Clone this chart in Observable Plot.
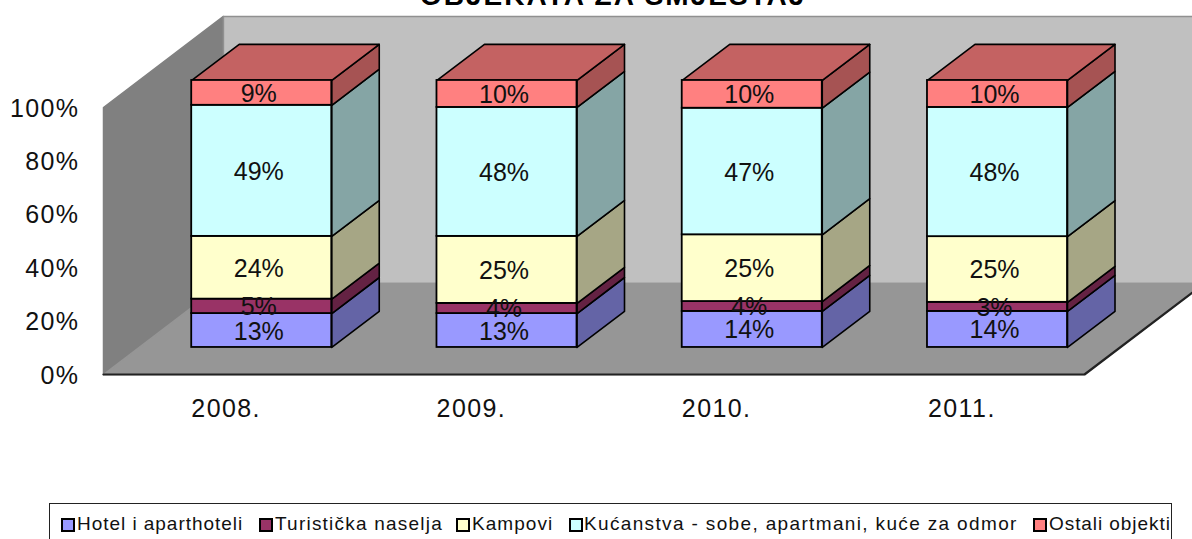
<!DOCTYPE html>
<html>
<head>
<meta charset="utf-8">
<script src="https://cdn.jsdelivr.net/npm/d3@7"></script>
<script src="https://cdn.jsdelivr.net/npm/@observablehq/plot@0.6"></script>
<style>
html,body{margin:0;padding:0;background:#fff;width:1192px;height:539px;overflow:hidden;font-family:"Liberation Sans",Arial,sans-serif}
#wrap{position:relative;width:1192px;height:539px;overflow:hidden}
#title{position:absolute;top:-19px;left:420px;font-weight:bold;font-size:28px;line-height:30px;white-space:nowrap;letter-spacing:2px}
#chart{position:absolute;left:0;top:0}
#chart svg{display:block;overflow:hidden}
#chart g[aria-label="y-axis tick label"] text{letter-spacing:1.4px}
#chart g[aria-label="x-axis tick label"] text{letter-spacing:1.4px}
#legend{position:absolute;left:49px;top:503px;width:1123px;height:40px;border:1px solid #222;box-sizing:border-box}
.item{position:absolute;top:10px;font-size:19px;line-height:20px;white-space:nowrap;color:#111}
.sw{position:absolute;top:14px;width:10px;height:10px;border:2px solid #000;box-sizing:content-box}
</style>
</head>
<body>
<div id="wrap">
<div id="title"></div>
<div id="chart"></div>
<div id="legend"></div>
</div>
<script>
const titleText = "OBJEKATA ZA SMJEŠTAJ";
const years = ["2008.", "2009.", "2010.", "2011."];
const seriesNames = ["Hotel i aparthoteli", "Turistička naselja", "Kampovi", "Kućanstva - sobe, apartmani, kuće za odmor", "Ostali objekti"];
const hotels = [12.7, 12.7, 13.5, 13.5];
const resorts = [5.4, 3.8, 3.7, 3.4];
const camps = [23.5, 25.1, 25.0, 24.6];
const households = [49.1, 48.3, 47.4, 48.4];
const others = [9.3, 10.1, 10.4, 10.1];
const seriesValues = [hotels, resorts, camps, households, others];
const frontColors = ["#9999FF", "#993366", "#FFFFCC", "#CCFFFF", "#FF8080"];
const sideColors = ["#6464A6", "#642243", "#A6A685", "#85A5A5", "#A65353"];
const topColor = "#C46262";
const yTicks = [0, 20, 40, 60, 80, 100];

// oblique projection of the chart's box, in scale units
const depthX = 0.489, depthY = 34.1;
const barNear = 0.297, barFar = 0.693, barHalf = 0.2855;
const at = (cat, pct, depth) => ({x: cat + depth * depthX, y: pct + depth * depthY});
const poly = (id, fill, stroke, pts) => [...pts, pts[0]].map(p => ({id, fill, stroke, ...p}));

const walls = [
  poly("left", "#808080", "#808080", [at(-0.5,0,0), at(-0.5,100,0), at(-0.5,100,1), at(-0.5,0,1)]),
  poly("back", "#C0C0C0", "#909090", [at(-0.5,0,1), at(-0.5,100,1), at(3.5,100,1), at(3.5,0,1)]),
  poly("floor", "#969696", "#969696", [at(-0.5,0,0), at(3.5,0,0), at(3.5,0,1), at(-0.5,0,1)])
].flat();
const floorEdge = [at(-0.5,0,0), at(3.5,0,0), at(3.5,0,1)];

const fronts = [], faces = [];
years.forEach((year, i) => {
  let base = 0;
  seriesNames.forEach((name, s) => {
    const v = seriesValues[s][i], top = base + v;
    const l = i - barHalf, r = i + barHalf;
    fronts.push({
      year, name, v, label: Math.round(v) + "%",
      x1: at(l, 0, barNear).x, x2: at(r, 0, barNear).x,
      xm: at(i, 0, barNear).x,
      y1: at(0, base, barNear).y, y2: at(0, top, barNear).y,
      ym: at(0, (base + top) / 2, barNear).y,
      fill: frontColors[s]
    });
    faces.push(...poly(`s${i}-${s}`, sideColors[s], "#000", [at(r, base, barNear), at(r, top, barNear), at(r, top, barFar), at(r, base, barFar)]));
    base = top;
  });
  const l = i - barHalf, r = i + barHalf;
  faces.push(...poly(`t${i}`, topColor, "#000", [at(l, base, barNear), at(r, base, barNear), at(r, base, barFar), at(l, base, barFar)]));
});

const font = {fontFamily: "Liberation Sans, Arial, sans-serif"};
const plot = Plot.plot({
  width: 1192,
  height: 503,
  marginLeft: 103,
  marginRight: 108,
  marginTop: 107,
  marginBottom: 129,
  style: {background: "transparent", ...font},
  x: {domain: [-0.5, 3.5]},
  y: {domain: [0, 100]},
  marks: [
    Plot.line(walls, {x: "x", y: "y", z: "id", fill: {value: "fill", scale: null}, stroke: {value: "stroke", scale: null}, strokeWidth: 1.5}),
    Plot.line(floorEdge, {x: "x", y: "y", stroke: "#222", strokeWidth: 2.2}),
    Plot.axisY({ticks: yTicks, tickSize: 0, tickPadding: 24, dy: 1, tickFormat: d => d + "%", label: null, fontSize: 25, fill: "#111"}),
    Plot.axisX({ticks: [0, 1, 2, 3], tickSize: 0, tickPadding: 25, tickFormat: i => years[i], label: null, fontSize: 25, fill: "#111"}),
    Plot.line(faces, {x: "x", y: "y", z: "id", fill: {value: "fill", scale: null}, stroke: "#000", strokeWidth: 1.6, strokeLinejoin: "round"}),
    Plot.rect(fronts, {x1: "x1", x2: "x2", y1: "y1", y2: "y2", fill: {value: "fill", scale: null}, stroke: "#000", strokeWidth: 1.8}),
    Plot.text(fronts, {x: "xm", y: "ym", text: "label", dx: -3, dy: 1, fontSize: 25, fill: "#111"})
  ]
});
document.getElementById("chart").appendChild(plot);
document.getElementById("title").textContent = titleText;

const legend = document.getElementById("legend");
const swatchLeft = [11, 209, 406, 519, 983];
const textLeft = [27, 225, 422, 534, 999];
const textSpacing = [0.96, 1.22, 1.05, 1.35, 0.93];
seriesNames.forEach((name, s) => {
  const sw = document.createElement("div");
  sw.className = "sw";
  sw.style.left = swatchLeft[s] + "px";
  sw.style.background = frontColors[s];
  legend.appendChild(sw);
  const t = document.createElement("div");
  t.className = "item";
  t.style.left = textLeft[s] + "px";
  t.style.letterSpacing = textSpacing[s] + "px";
  t.textContent = name;
  legend.appendChild(t);
});
</script>
</body>
</html>
